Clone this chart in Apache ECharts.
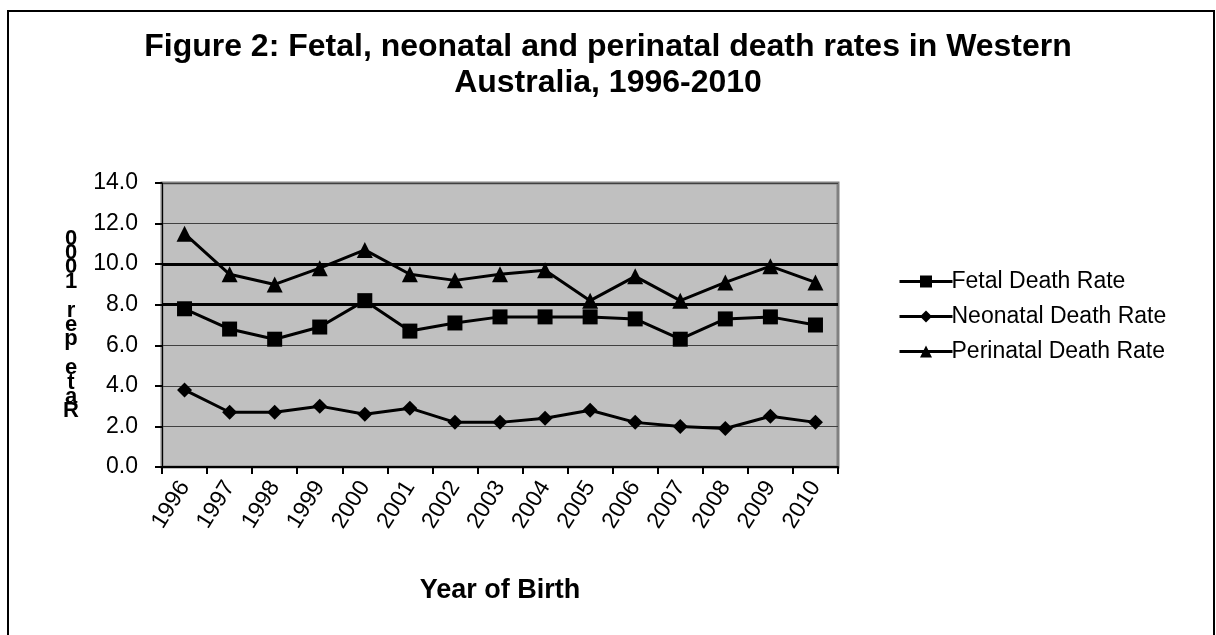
<!DOCTYPE html>
<html>
<head>
    <meta charset="utf-8" />
    <script src="https://cdn.jsdelivr.net/npm/echarts@6/dist/echarts.min.js"></script>
</head>
<body style="margin:0;background:#fff;">
    <div id="main" style="width: 1216px;height: 635px;"></div>

    <script type="text/javascript">
        // values
        var years = ['1996', '1997', '1998', '1999', '2000', '2001', '2002', '2003',
            '2004', '2005', '2006', '2007', '2008', '2009', '2010'];
        var fetal = [7.8, 6.8, 6.3, 6.9, 8.2, 6.7, 7.1, 7.4, 7.4, 7.4, 7.3, 6.3, 7.3, 7.4, 7.0];
        var neonatal = [3.8, 2.7, 2.7, 3.0, 2.6, 2.9, 2.2, 2.2, 2.4, 2.8, 2.2, 2.0, 1.9, 2.5, 2.2];
        var perinatal = [11.5, 9.5, 9.0, 9.8, 10.7, 9.5, 9.2, 9.5, 9.7, 8.2, 9.4, 8.2, 9.1, 9.9, 9.1];
        // gridlines at 8 and 10 are drawn heavy in the original
        var heavyGrid = ['rgba(0,0,0,0)', 'rgba(0,0,0,0)', 'rgba(0,0,0,0)', 'rgba(0,0,0,0)',
            '#000', '#000', 'rgba(0,0,0,0)', 'rgba(0,0,0,0)'];

        var chartDom = document.getElementById('main');
        var myChart = echarts.init(chartDom);
        var font = '"Liberation Sans", Arial, sans-serif';

        function lineSeries(name, data, symbol, size) {
            return {
                name: name,
                type: 'line',
                data: data,
                symbol: symbol,
                symbolSize: size,
                color: '#000',
                lineStyle: { color: '#000', width: 3 },
                itemStyle: { color: '#000' },
                z: 5
            };
        }

        var option = {
            animation: false,
            backgroundColor: '#fff',
            textStyle: { fontFamily: font, color: '#000' },
            title: {
                text: 'Figure 2: Fetal, neonatal and perinatal death rates in Western\nAustralia, 1996-2010',
                left: 'center',
                top: 24,
                textStyle: {
                    fontFamily: font,
                    fontSize: 32,
                    fontWeight: 'bold',
                    lineHeight: 36,
                    color: '#000',
                    align: 'center'
                }
            },
            graphic: [{
                type: 'rect',
                shape: { x: 8, y: 11, width: 1206, height: 640 },
                style: { fill: null, stroke: '#000', lineWidth: 2 },
                silent: true
            }],
            legend: {
                orient: 'vertical',
                left: 893,
                top: 265,
                itemWidth: 53,
                itemHeight: 15,
                itemGap: 12,
                lineStyle: { width: 3 },
                textStyle: { fontFamily: font, fontSize: 23, color: '#000', padding: [0, 0, 0, -6] },
                data: ['Fetal Death Rate', 'Neonatal Death Rate', 'Perinatal Death Rate']
            },
            grid: {
                left: 162,
                right: 378,
                top: 183,
                bottom: 168,
                show: true,
                backgroundColor: '#c0c0c0',
                borderColor: '#808080',
                borderWidth: 3
            },
            xAxis: {
                type: 'category',
                data: years,
                boundaryGap: true,
                name: 'Year of Birth',
                nameLocation: 'middle',
                nameGap: 110,
                nameTextStyle: { fontFamily: font, fontSize: 27, fontWeight: 'bold', color: '#000' },
                axisLine: { lineStyle: { color: '#000', width: 2 } },
                axisTick: { show: true, alignWithLabel: false, length: 7, lineStyle: { color: '#000', width: 2 } },
                axisLabel: { rotate: 58, fontSize: 23, color: '#000', margin: 16, interval: 0 }
            },
            yAxis: [{
                type: 'value',
                min: 0,
                max: 14,
                interval: 2,
                name: 'Rate per 1000'.split('').reverse().join('\n'),
                nameLocation: 'middle',
                nameRotate: 0,
                nameGap: 91,
                nameTextStyle: {
                    fontFamily: font, fontSize: 22, fontWeight: 'bold', color: '#000',
                    lineHeight: 14.4, align: 'center'
                },
                axisLine: { show: true, lineStyle: { color: '#000', width: 1 } },
                axisTick: { show: true, length: 7, lineStyle: { color: '#000', width: 2 } },
                axisLabel: {
                    fontSize: 23, color: '#000', margin: 24,
                    formatter: function (v) { return v.toFixed(1); }
                },
                splitLine: { show: true, lineStyle: { color: '#404040', width: 1 } }
            }, {
                type: 'value',
                position: 'left',
                min: 0,
                max: 14,
                interval: 2,
                axisLine: { show: false },
                axisTick: { show: false },
                axisLabel: { show: false },
                splitLine: { show: true, lineStyle: { color: heavyGrid, width: 3 } }
            }],
            series: [
                lineSeries('Fetal Death Rate', fetal, 'rect', 15),
                lineSeries('Neonatal Death Rate', neonatal, 'diamond', 15),
                lineSeries('Perinatal Death Rate', perinatal, 'triangle', 16)
            ]
        };

        option && myChart.setOption(option);
    </script>
</body>
</html>
